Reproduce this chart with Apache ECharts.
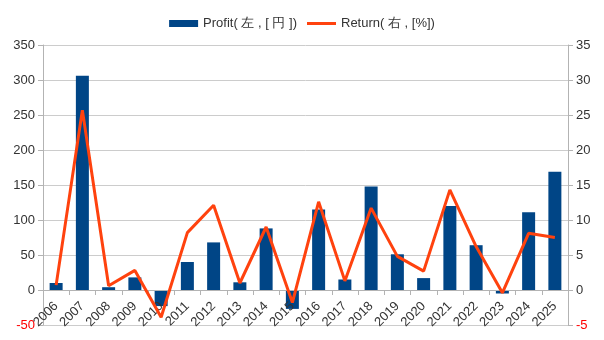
<!DOCTYPE html>
<html><head><meta charset="utf-8">
<script src="https://cdn.jsdelivr.net/npm/echarts@6/dist/echarts.min.js"></script>
<style>html,body{margin:0;padding:0;background:#fff}#c{width:604px;height:340px}</style>
</head><body><div id="c"></div>
<script>
const years = ['2006','2007','2008','2009','2010','2011','2012','2013','2014','2015','2016','2017','2018','2019','2020','2021','2022','2023','2024','2025'];
const profit = [10, 306, 4, 18, -23, 40, 68, 11, 88, -27, 115, 15, 148, 51, 17, 120, 64, -5, 111, 169];
const returns = [0.7, 25.7, 0.6, 2.8, -3.9, 8.2, 12.1, 1.0, 9.0, -1.8, 12.6, 1.3, 11.7, 4.8, 2.7, 14.3, 6.2, -0.4, 8.1, 7.5];
const profitName = 'Profit( 左 , [ 円 ])';
const returnName = 'Return( 右 , [%])';

const font = 'Liberation Sans, Arial, sans-serif';
const labelRich = {
  n: {color: '#ff0000', fontFamily: font, fontSize: 13},
  p: {color: '#333333', fontFamily: font, fontSize: 13}
};
const fmt = v => (v < 0 ? '{n|' + v + '}' : '{p|' + v + '}');

const chart = echarts.init(document.getElementById('c'), null, {renderer: 'canvas'});
chart.setOption({
  animation: false,
  backgroundColor: '#ffffff',
  textStyle: {fontFamily: font},
  legend: {
    top: 12, left: 'center',
    itemWidth: 29, itemHeight: 7, itemGap: 10,
    symbolKeepAspect: true,
    textStyle: {fontFamily: font, fontSize: 13, color: '#333'},
    data: [
      {name: profitName, icon: 'rect'},
      {name: returnName, icon: 'path://M0,0 L29,0 L29,3 L0,3 Z', itemStyle: {color: '#ff420e', borderWidth: 0}}
    ]
  },
  grid: {left: 43, right: 36, top: 45, bottom: 15, containLabel: false, outerBoundsMode: 'none'},
  xAxis: {
    type: 'category', data: years, z: 4,
    axisLine: {onZero: true, lineStyle: {color: '#b3b3b3'}},
    axisTick: {show: true, length: 5, lineStyle: {color: '#b3b3b3'}},
    axisLabel: {rotate: 45, margin: -21, fontFamily: font, fontSize: 13, color: '#333', interval: 0}
  },
  yAxis: [
    {type: 'value', min: -50, max: 350, interval: 50, z: 0,
     axisLine: {show: true, lineStyle: {color: '#b3b3b3'}},
     axisTick: {show: true, length: 5, lineStyle: {color: '#b3b3b3'}},
     splitLine: {lineStyle: {color: '#cccccc'}},
     axisLabel: {formatter: fmt, rich: labelRich, margin: 8}},
    {type: 'value', min: -5, max: 35, interval: 5, z: 0,
     axisLine: {show: true, lineStyle: {color: '#b3b3b3'}},
     axisTick: {show: true, length: 5, lineStyle: {color: '#b3b3b3'}},
     splitLine: {show: false},
     axisLabel: {formatter: fmt, rich: labelRich, margin: 8}}
  ],
  series: [
    {name: profitName, type: 'bar', yAxisIndex: 0, data: profit, barWidth: 13, z: 1,
     itemStyle: {color: '#004586'}},
    {name: returnName, type: 'line', yAxisIndex: 1, data: returns,
     symbol: 'none', lineStyle: {color: '#ff420e', width: 3}, itemStyle: {color: '#ff420e'}, z: 5}
  ]
});
</script></body></html>
